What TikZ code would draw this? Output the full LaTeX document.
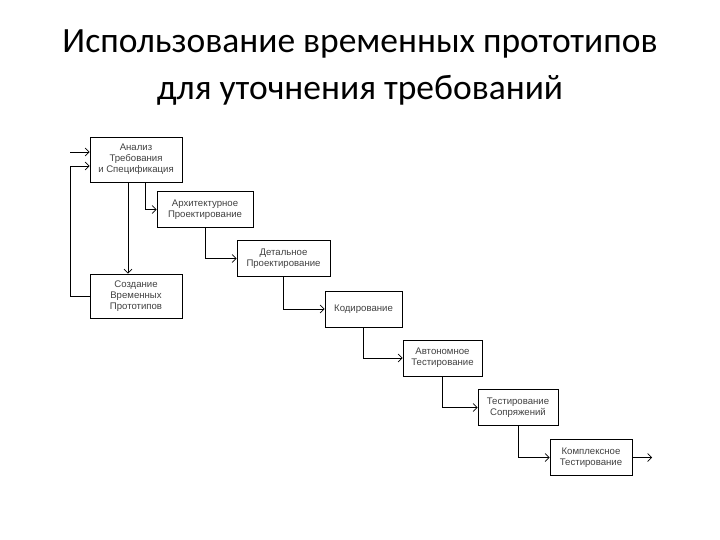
\documentclass[tikz,border=0pt]{standalone}
\usepackage{fontspec}
\setmainfont{Liberation Sans}
\newfontfamily\titlefont{Carlito}
\usetikzlibrary{arrows.meta}
\begin{document}
\begin{tikzpicture}[x=1pt,y=-1pt,
  blk/.style={draw,line width=0.9pt,minimum height=36pt,align=center,font=\fontsize{9.6}{11}\selectfont,inner sep=1pt,text=black!75},
  con/.style={line width=0.7pt,-{Straight Barb[length=4pt]}}]
\useasboundingbox (0,0) rectangle (720,540);
\node[font=\titlefont\fontsize{35.5}{47}\selectfont,align=center] (title) at (360,68) {Использование временных прототипов\\для уточнения требований};
\node[blk,minimum width=92pt,minimum height=45pt] (a) at (136,159.5) {Анализ\\Требования\\и Спецификация};
\node[blk,minimum width=96pt] (b) at (205,209.5) {Архитектурное\\Проектирование};
\node[blk,minimum width=93pt] (c) at (283.5,258.5) {Детальное\\Проектирование};
\node[blk,minimum width=77pt] (d) at (363.5,309) {Кодирование};
\node[blk,minimum width=79pt] (e) at (442.5,358) {Автономное\\Тестирование};
\node[blk,minimum width=80pt] (f) at (518,407.5) {Тестирование\\Сопряжений};
\node[blk,minimum width=82pt] (g) at (591,457.5) {Комплексное\\Тестирование};
\node[blk,minimum width=92pt,minimum height=44pt] (s) at (136,296) {Создание\\Временных\\Прототипов};
\coordinate (in) at (70,152);
\coordinate (out) at (652,457.5);
\draw[con] (in) -- (in -| a.west);
\draw[con] (a.south -| 128,0) -- (s.north -| 128,0);
\draw[con] (a.south -| 145,0) |- (b.west);
\draw[con] (b.south) |- (c.west);
\draw[con] (c.south) |- (d.west);
\draw[con] (d.south) |- (e.west);
\draw[con] (e.south) |- (f.west);
\draw[con] (f.south) |- (g.west);
\draw[con] (g.east) -- (out);
\draw[con] (s.west) -| (70,166) -- (a.west |- 0,166);
\end{tikzpicture}
\end{document}
